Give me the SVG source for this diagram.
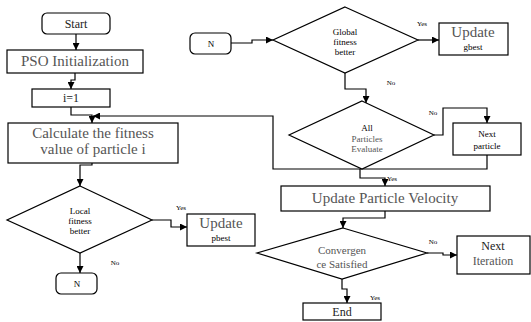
<svg xmlns="http://www.w3.org/2000/svg" width="531" height="322" viewBox="0 0 531 322">
<style>
.box{fill:#fff;stroke:#000;stroke-width:1.2}
.ln{fill:none;stroke:#000;stroke-width:1.2;marker-end:url(#ah)}
.big{font-family:"Liberation Serif",serif;font-size:15px;fill:#555;text-anchor:middle}
.mid{font-family:"Liberation Serif",serif;font-size:12px;fill:#222;text-anchor:middle}
.sm{font-family:"Liberation Serif",serif;font-size:9px;fill:#000;text-anchor:middle}
.gr{fill:#555}
.lbl{font-family:"Liberation Serif",serif;font-size:7px;fill:#000;text-anchor:middle}
</style>
<defs>
<marker id="ah" viewBox="0 0 10 10" refX="10" refY="5" markerWidth="7" markerHeight="7" markerUnits="userSpaceOnUse" orient="auto">
<path d="M0,0L10,5L0,10z" fill="#000"/>
</marker>
</defs>
<g id="connectors">
<path class="ln" d="M76,34V50"/>
<path class="ln" d="M75,73V80H71V89"/>
<path class="ln" d="M71,107V115H92V123"/>
<path class="ln" d="M487,155V169H273V116H93"/>
<path class="ln" d="M92,163V165H80V186"/>
<path class="ln" d="M152,220H171V227H187"/>
<path class="ln" d="M80,253V273"/>
<path class="ln" d="M231,43H252V40H273"/>
<path class="ln" d="M418,40H439"/>
<path class="ln" d="M345,73V89H366V103"/>
<path class="ln" d="M434,135H443V108H487V123"/>
<path class="ln" d="M360,169V178H385V186"/>
<path class="ln" d="M385,211V218H343V228"/>
<path class="ln" d="M427,253H443V255H457"/>
<path class="ln" d="M342,279V289H347V303"/>
<text class="lbl" x="181" y="210">Yes</text>
<text class="lbl" x="115" y="265">No</text>
<text class="lbl" x="422" y="26">Yes</text>
<text class="lbl" x="391" y="85">No</text>
<text class="lbl" x="433" y="115">No</text>
<text class="lbl" x="392" y="181">Yes</text>
<text class="lbl" x="433" y="244">No</text>
<text class="lbl" x="375" y="300">Yes</text>
</g>
<g id="start"><rect class="box" x="42" y="13" width="68" height="21" rx="5"/><text class="mid" x="76" y="28">Start</text></g>
<g id="pso-init"><rect class="box" x="7" y="50" width="136" height="23"/><text class="big" x="75" y="66">PSO Initialization</text></g>
<g id="i1"><rect class="box" x="32" y="89" width="78" height="18"/><text class="mid" x="71" y="102">i=1</text></g>
<g id="calc"><rect class="box" x="8" y="123" width="170" height="40"/><text class="big" x="93" y="138">Calculate the fitness</text><text class="big" x="93" y="154">value of particle i</text></g>
<g id="dec-local"><polygon class="box" points="80,186 152,220 80,253 7,220"/><text class="sm" x="80" y="214">Local</text><text class="sm" x="80" y="224">fitness</text><text class="sm" x="80" y="234">better</text></g>
<g id="upd-pbest"><rect class="box" x="187" y="214" width="68" height="32"/><text class="big" x="221" y="228">Update</text><text class="sm" x="221" y="241">pbest</text></g>
<g id="n1"><rect class="box" x="56" y="273" width="41" height="21" rx="5"/><text class="sm" x="77" y="287">N</text></g>
<g id="n2"><rect class="box" x="190" y="33" width="41" height="21" rx="5"/><text class="sm" x="211" y="47">N</text></g>
<g id="dec-global"><polygon class="box" points="345,7 418,40 345,73 273,40"/><text class="sm" x="345" y="35">Global</text><text class="sm" x="345" y="45">fitness</text><text class="sm" x="345" y="55">better</text></g>
<g id="upd-gbest"><rect class="box" x="439" y="23" width="69" height="32"/><text class="big" x="473" y="37">Update</text><text class="sm" x="473" y="50">gbest</text></g>
<g id="dec-all"><polygon class="box" points="362,101 434,135 362,169 289,135"/><text class="sm" x="367" y="131">All</text><text class="sm gr" x="367" y="142">Particles</text><text class="sm gr" x="367" y="152">Evaluate</text></g>
<g id="next-particle"><rect class="box" x="453" y="123" width="68" height="32"/><text class="sm" x="487" y="137">Next</text><text class="sm" x="487" y="149">particle</text></g>
<g id="upd-vel"><rect class="box" x="281" y="186" width="209" height="25"/><text class="big" x="385" y="203">Update Particle Velocity</text></g>
<g id="dec-conv"><polygon class="box" points="343,228 427,253 342,279 257,253"/><text class="mid gr" x="342" y="254" style="font-size:11px">Convergen</text><text class="mid gr" x="342" y="268" style="font-size:11px">ce Satisfied</text></g>
<g id="next-iter"><rect class="box" x="457" y="236" width="73" height="38"/><text class="mid" x="493" y="250">Next</text><text class="mid gr" x="493" y="265">Iteration</text></g>
<g id="end"><rect class="box" x="303" y="303" width="78" height="17"/><text class="mid" x="342" y="316">End</text></g>
</svg>
